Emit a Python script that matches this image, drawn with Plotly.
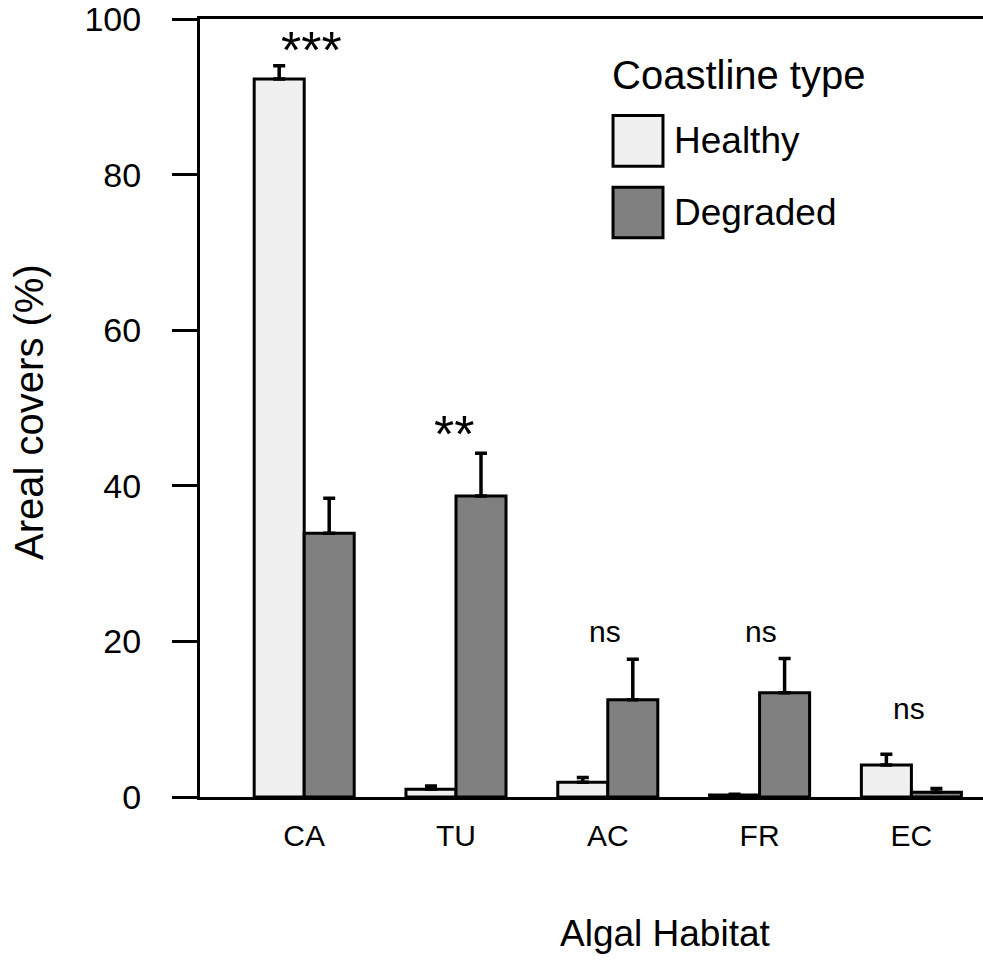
import plotly.graph_objects as go

categories = ["CA", "TU", "AC", "FR", "EC"]
series_names = ["Healthy", "Degraded"]
healthy = [92.3, 1.0, 1.9, 0.25, 4.1]
healthy_err = [1.7, 0.4, 0.6, 0.1, 1.4]
degraded = [33.9, 38.7, 12.5, 13.4, 0.6]
degraded_err = [4.5, 5.5, 5.2, 4.4, 0.5]
sig_labels = ["***", "**", "ns", "ns", "ns"]
sig_y = [96.0, 46.7, 21.3, 21.3, 11.4]
y_ticks = [0, 20, 40, 60, 80, 100]

FONT = "Liberation Sans, Arial, sans-serif"
colors = ["#f0f0f0", "#808080"]

fig = go.Figure()
for name, vals, errs, col in zip(series_names, [healthy, degraded], [healthy_err, degraded_err], colors):
    fig.add_trace(go.Bar(
        x=categories, y=vals, name=name,
        marker=dict(color=col, line=dict(color="black", width=3)),
        error_y=dict(type="data", symmetric=False, array=errs, arrayminus=[0] * len(errs),
                     color="black", thickness=3.5, width=6),
        showlegend=False,
    ))

# significance labels
xshifts = [7, -2, -3, 1, -2]
for cat, lab, yv, xs in zip(categories, sig_labels, sig_y, xshifts):
    big = lab.startswith("*")
    fig.add_annotation(x=cat, y=yv, xref="x", yref="y", text=lab, showarrow=False,
                       xshift=xs, yanchor="middle",
                       font=dict(family=FONT, size=52 if big else 30, color="black"))

# manual legend
fig.add_annotation(x=0.5236, y=0.928, xref="paper", yref="paper", text="Coastline type",
                   showarrow=False, xanchor="left", yanchor="middle",
                   font=dict(family=FONT, size=40, color="black"))
box_y = [(0.8107, 0.876), (0.7187, 0.7839)]
for name, col, (y0, y1) in zip(series_names, colors, box_y):
    fig.add_shape(type="rect", xref="paper", yref="paper", x0=0.5275, x1=0.5913, y0=y0, y1=y1,
                  fillcolor=col, line=dict(color="black", width=3))
    fig.add_annotation(x=0.6028, y=(y0 + y1) / 2, xref="paper", yref="paper", text=name,
                       showarrow=False, xanchor="left", yanchor="middle",
                       font=dict(family=FONT, size=37, color="black"))

# axis titles
fig.add_annotation(x=(665 - 200) / 783, y=-0.175, xref="paper", yref="paper", text="Algal Habitat",
                   showarrow=False, xanchor="center", yanchor="middle",
                   font=dict(family=FONT, size=37, color="black"))
fig.add_annotation(x=(29 - 200) / 783, y=0.495, xref="paper", yref="paper", text="Areal covers (%)",
                   showarrow=False, textangle=-90, xanchor="center", yanchor="middle",
                   font=dict(family=FONT, size=40, color="black"))

fig.update_layout(
    width=983, height=974,
    margin=dict(l=200, r=0, t=15, b=177),
    plot_bgcolor="white", paper_bgcolor="white",
    barmode="group", bargap=0.341, bargroupgap=0,
    showlegend=False,
    font=dict(family=FONT, color="black"),
)
fig.update_xaxes(
    type="category", range=[-0.6864, 4.4717],
    showline=True, linecolor="black", linewidth=3, mirror=True,
    ticks="outside", ticklen=10, tickcolor="rgba(0,0,0,0)",
    tickfont=dict(family=FONT, size=30, color="black"),
    showgrid=False, zeroline=False,
)
fig.update_yaxes(
    range=[0, 100.02], tickvals=y_ticks, ticktext=[str(v) for v in y_ticks],
    showline=True, linecolor="black", linewidth=3, mirror=False,
    ticks="outside", ticklen=25, tickwidth=3, tickcolor="black",
    ticklabelstandoff=24, ticklabeloverflow="allow",
    tickfont=dict(family=FONT, size=34, color="black"),
    showgrid=False, zeroline=False,
)

# remove the default 8px page margin so the figure sits at the window's corner
fig.write_html("out.html", config={"displayModeBar": False},
               post_script="document.body.style.margin='0';document.body.style.overflow='hidden';")
